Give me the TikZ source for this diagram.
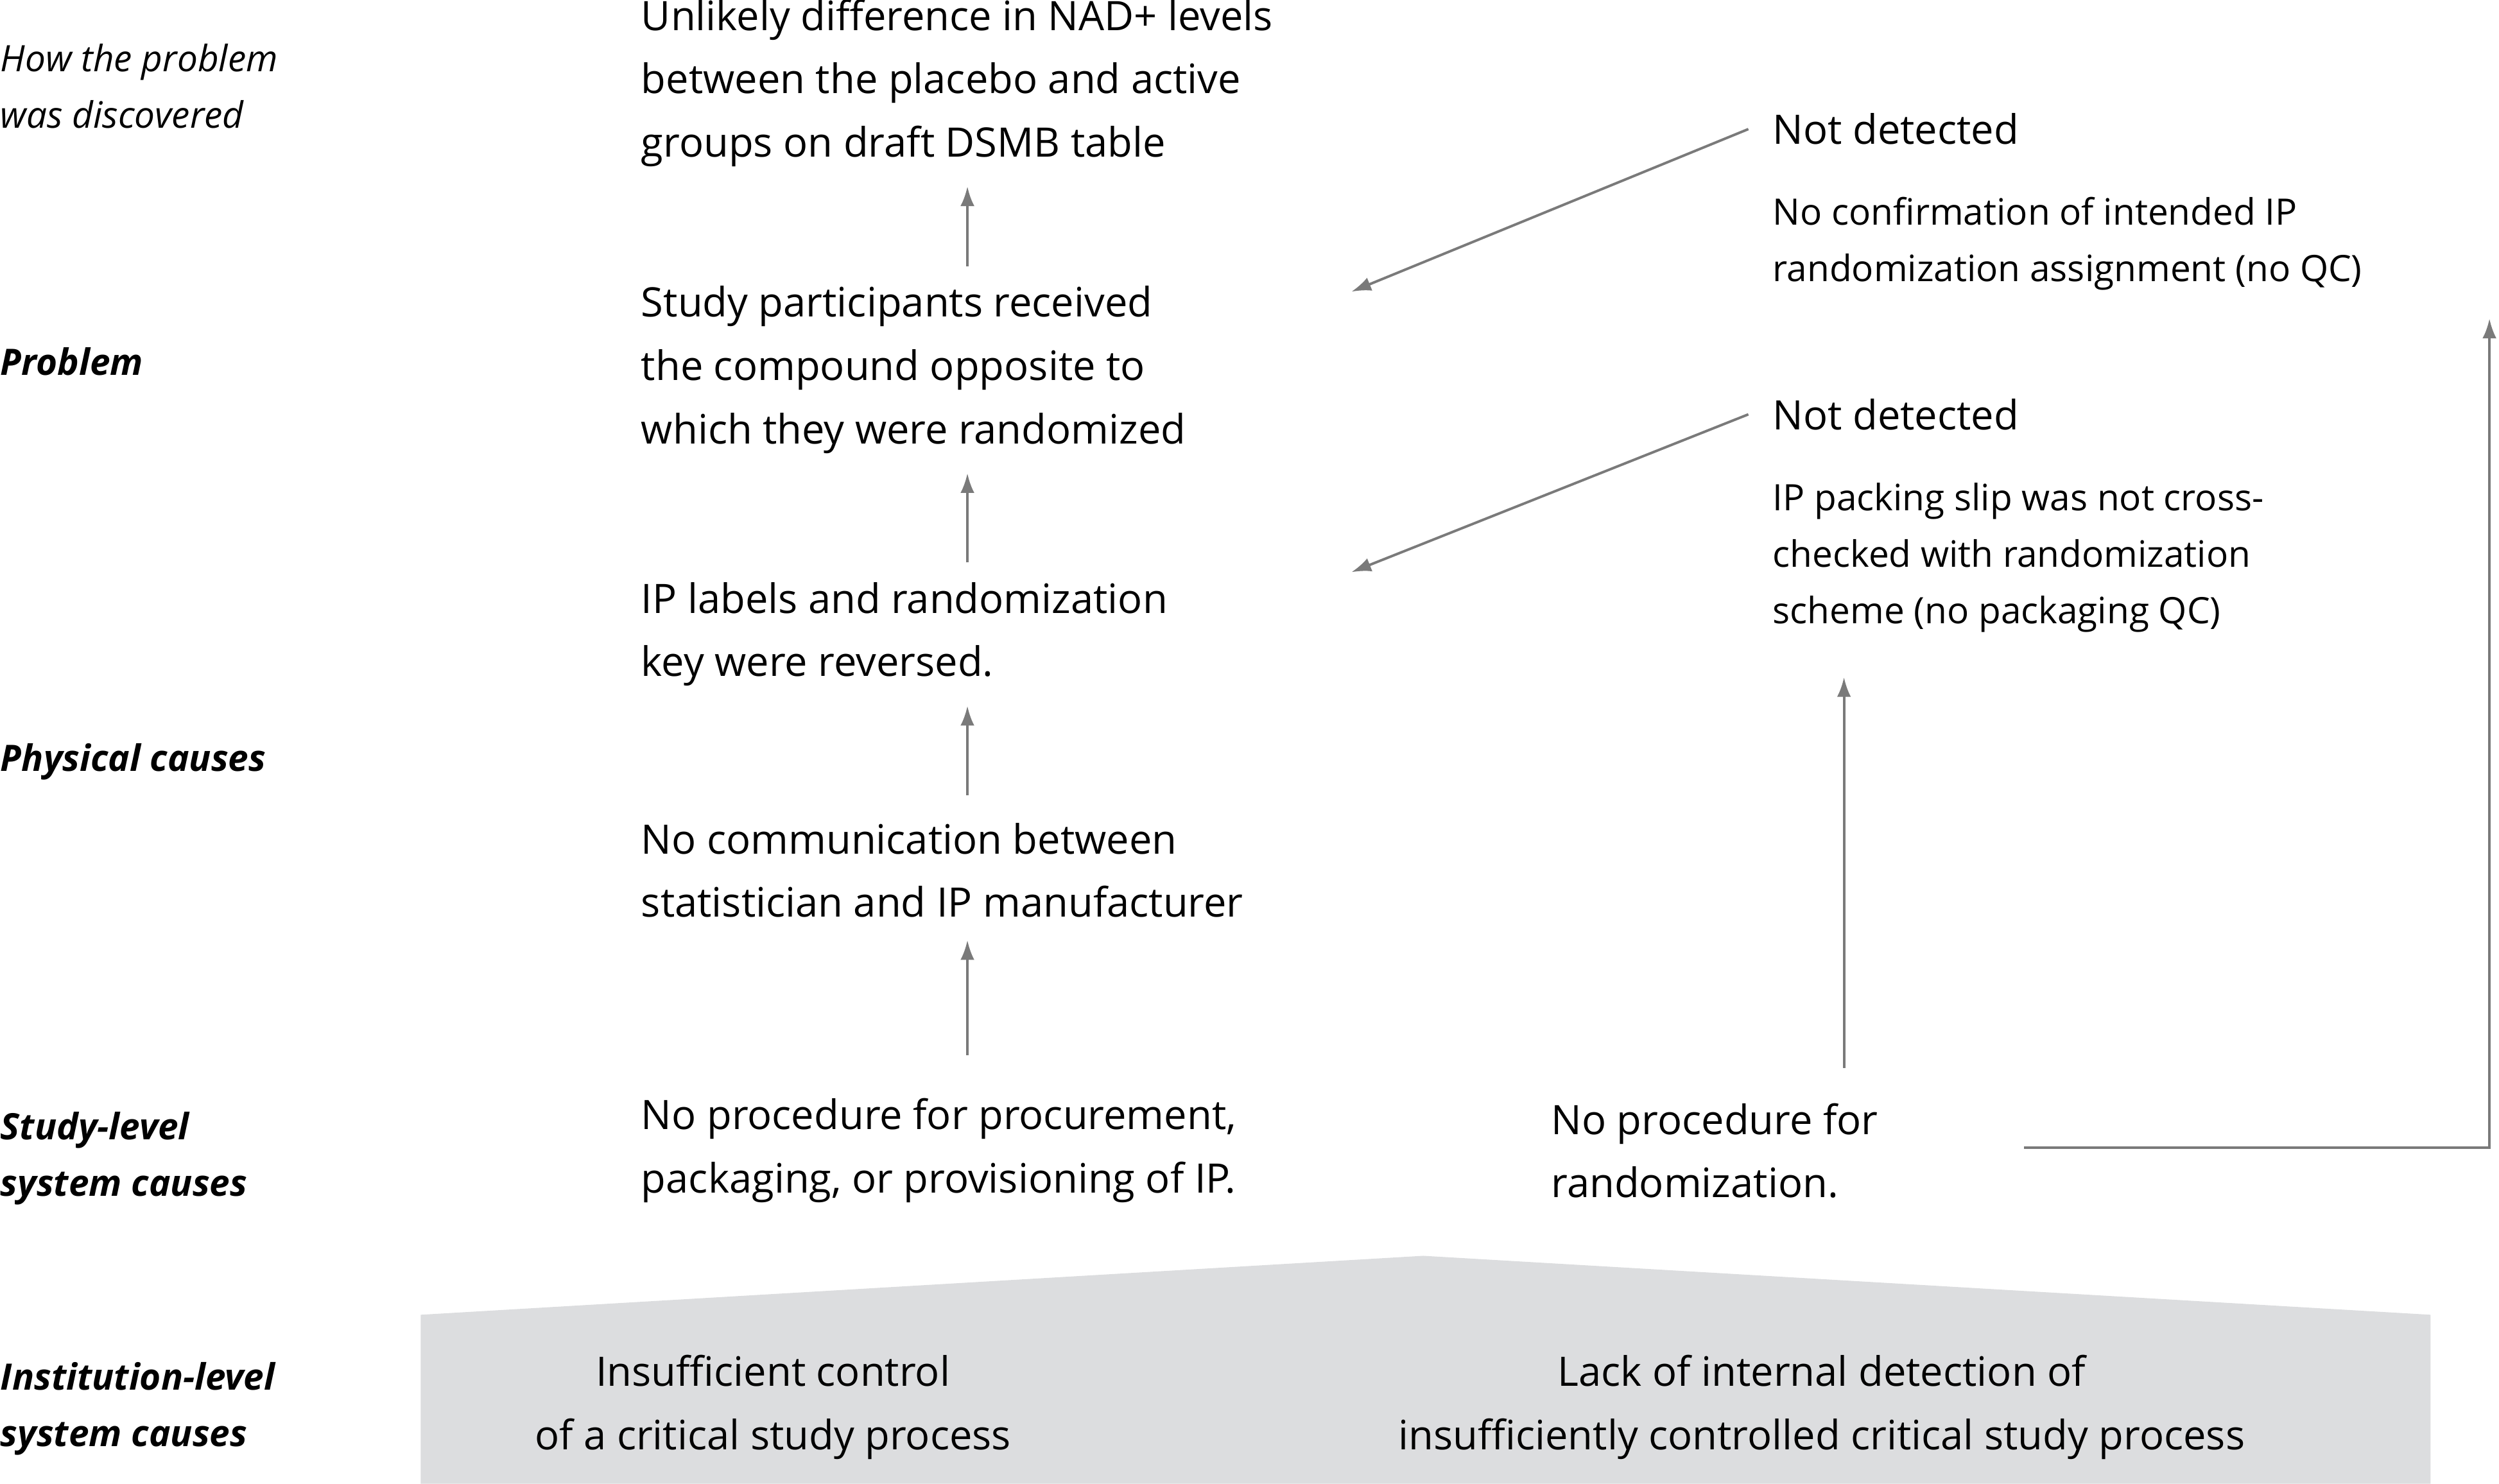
\documentclass[tikz,border=0pt]{standalone}
\usepackage{fontspec}
\setmainfont{Open Sans}
\usetikzlibrary{arrows.meta, positioning}
\definecolor{arrowgray}{HTML}{7A7A7A}
\definecolor{boxgray}{HTML}{DCDDDF}
\tikzset{
	cause/.style={anchor=west, align=left, inner sep=0pt, font=\fontsize{14.5}{22.6}\selectfont},
	detail/.style={anchor=west, align=left, inner sep=0pt, font=\fontsize{13}{20.2}\selectfont},
	level/.style={anchor=west, align=left, inner sep=0pt, font=\fontsize{13}{20.2}\selectfont\itshape},
	levelb/.style={level, font=\fontsize{13}{20.2}\selectfont\itshape\bfseries},
	inst/.style={align=center, inner sep=0pt, font=\fontsize{14.5}{22.6}\selectfont},
}

\begin{document}
\begin{tikzpicture}[x=0.02cm, y=-0.02cm]
	\useasboundingbox (0,0) rectangle (1568,931);
	
	% institution band
	\fill[boxgray] (264,825) -- (893,788) -- (1525,825) -- (1525,931) -- (264,931) -- cycle;
	
	% level labels
	\node (lv0) [level] at (0,54) {How the problem\\was discovered};
	\node (lv1) [levelb] at (0,227) {Problem};
	\node (lv2) [levelb] at (0,478) {Physical causes};
	\node (lv3) [levelb] at (0,727) {Study-level\\system causes};
	\node (lv4) [levelb] at (0,884) {Institution-level\\system causes};
	
	% middle column
	\node (disc) [cause] at (402,52) {Unlikely difference in NAD+ levels\\between the placebo and active\\groups on draft DSMB table};
	\node (prob) [cause] at (402,232) {Study participants received\\the compound opposite to\\which they were randomized};
	\node (phys) [cause] at (402,398) {IP labels and randomization\\key were reversed.};
	\node (comm) [cause] at (402,546) {No communication between\\statistician and IP manufacturer};
	\node (proc1) [cause] at (402,722) {No procedure for procurement,\\packaging, or provisioning of IP.};
	\node (proc2) [cause] at (973,722) {No procedure for\\randomization.};
	
	% right column
	\node (nd1) [cause] at (1112,81) {Not detected};
	\node (qc1) [detail] at (1112,153) {No confirmation of intended IP\\randomization assignment (no QC)};
	\node (nd2) [cause] at (1112,260) {Not detected};
	\node (qc2) [detail] at (1112,350) {IP packing slip was not cross-\\checked with randomization\\scheme (no packaging QC)};
	
	% institution texts
	\node (inst1) [inst] at (485,883) {Insufficient control\\of a critical study process};
	\node (inst2) [inst] at (1143,883) {Lack of internal detection of\\insufficiently controlled critical study process};
	
	% arrow ends
	\coordinate (a1) at (607,167); \coordinate (b1) at (607,117);
	\coordinate (a2) at (607,353); \coordinate (b2) at (607,297);
	\coordinate (a3) at (607,499); \coordinate (b3) at (607,443);
	\coordinate (a4) at (607,662); \coordinate (b4) at (607,590);
	\coordinate (d1) at (848,183); \coordinate (d2) at (848,359);
	\coordinate (a5) at (1157,670); \coordinate (b5) at (1157,425);
	\coordinate (e1) at (1270,720); \coordinate (e2) at (1562,200);
	
	\begin{scope}[arrowgray, line width=0.9pt, -{Latex[length=7pt, width=5pt]}]
		\draw (a1) -- (b1);
		\draw (a2) -- (b2);
		\draw (a3) -- (b3);
		\draw (a4) -- (b4);
		\draw (nd1.west) ++(-15,0) -- (d1);
		\draw (nd2.west) ++(-15,0) -- (d2);
		\draw (a5) -- (b5);
		\draw (e1) -| (e2);
	\end{scope}
	
\end{tikzpicture}
\end{document}
